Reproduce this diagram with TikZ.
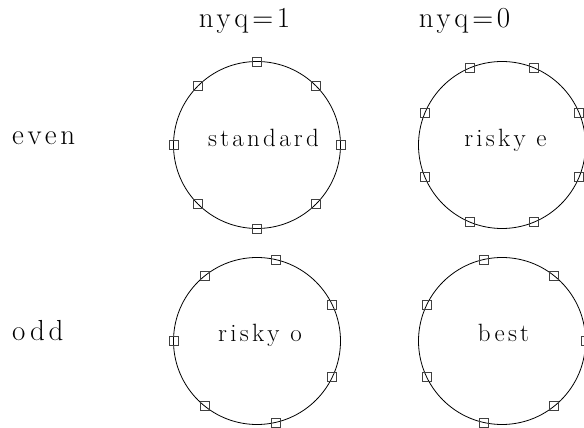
\documentclass[tikz,border=0pt]{standalone}
\usepackage{fontspec}
\newfontfamily\lblfont[LetterSpace=13]{Latin Modern Roman}
\tikzset{
  ring/.style={circle, draw=black, line width=0.8pt, minimum size=167pt, inner sep=0pt},
  sq/.style={draw=black!75, line width=0.7pt, minimum size=9pt, inner sep=0pt, fill=none},
  outer/.style={font=\lblfont\fontsize{29}{29}\selectfont, inner sep=0pt},
  inner/.style={font=\lblfont\fontsize{25}{25}\selectfont, inner sep=0pt, anchor=base},
}
\begin{document}
\begin{tikzpicture}[x=1pt,y=1pt]
\useasboundingbox (0,0) rectangle (584,428);
\clip (0,0) rectangle (584,428);
% column and row labels
\node[outer, anchor=base] (nyq1) at (244.5,400) {nyq=1};
\node[outer, anchor=base] (nyq0) at (464.5,400) {nyq=0};
\node[outer, anchor=base west] (even) at (12,283) {even};
\node[outer, anchor=base west] (odd) at (12,87) {odd};
% circles
\node[ring] (std) at (257,283) {};
\node[ring] (rke) at (502,283) {};
\node[ring] (rko) at (257,87) {};
\node[ring] (best) at (502,87) {};
% texts
\node[inner] (tstd) at (263.5,281) {standard};
\node[inner] (trke) at (505.5,281) {risky e};
\node[inner] (trko) at (260,86) {risky o};
\node[inner] (tbest) at (503.5,86) {best};
% sample squares
\foreach \a [count=\i] in {0,45,...,315}
  \node[sq] (std-\i) at ([shift={(\a:83.5)}]std.center) {};
\foreach \a [count=\i] in {22.5,67.5,...,337.5}
  \node[sq] (rke-\i) at ([shift={(\a:83.5)}]rke.center) {};
\foreach \k in {0,...,6}{
  \pgfmathsetmacro{\ang}{180+\k*360/7}
  \node[sq] (rko-\k) at ([shift={(\ang:83.5)}]rko.center) {};
  \pgfmathsetmacro{\angb}{\k*360/7}
  \node[sq] (best-\k) at ([shift={(\angb:83.5)}]best.center) {};
}
\end{tikzpicture}
\end{document}
